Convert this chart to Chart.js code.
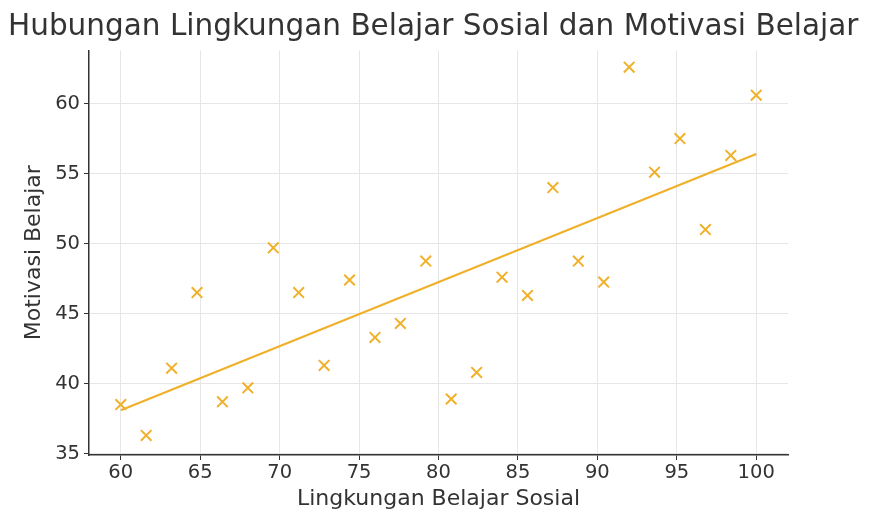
<!DOCTYPE html>
<html>
<head>
<meta charset="utf-8">
<script src="https://cdn.jsdelivr.net/npm/chart.js@4/dist/chart.umd.min.js"></script>
<style>
    html, body { margin: 0; padding: 0; background: #fff; }
    #wrap { width: 872px; height: 516px; }
</style>
</head>
<body>
<div id="wrap"><canvas id="chart" width="872" height="516"></canvas></div>
<script>
// Data
const lingkungan = [60, 61.6, 63.2, 64.8, 66.4, 68, 69.6, 71.2, 72.8, 74.4, 76, 77.6, 79.2,
    80.8, 82.4, 84, 85.6, 87.2, 88.8, 90.4, 92, 93.6, 95.2, 96.8, 98.4, 100];
const motivasi = [38.5, 36.3, 41.1, 46.5, 38.7, 39.7, 49.7, 46.5, 41.3, 47.4, 43.3, 44.3, 48.75,
    38.9, 40.8, 47.6, 46.3, 54.0, 48.75, 47.25, 62.6, 55.1, 57.5, 51.0, 56.3, 60.6];

// Regression line end points
const trendX = [60, 100];
const trendY = [38.1, 56.4];

const xTicks = [60, 65, 70, 75, 80, 85, 90, 95, 100];
const yTicks = [35, 40, 45, 50, 55, 60];

const orange = '#f0b02a';
const textColor = '#333333';
const font = 'DejaVu Sans';

const points = lingkungan.map((x, i) => ({ x: x, y: motivasi[i] }));
const trend = trendX.map((x, i) => ({ x: x, y: trendY[i] }));

new Chart(document.getElementById('chart'), {
    type: 'scatter',
    data: {
        datasets: [
            {
                label: 'Data',
                data: points,
                pointStyle: 'crossRot',
                pointRadius: 7.5,
                pointBorderWidth: 2,
                borderColor: orange,
                backgroundColor: orange
            },
            {
                type: 'line',
                label: 'Regresi',
                data: trend,
                borderColor: orange,
                borderWidth: 2.2,
                pointRadius: 0,
                fill: false
            }
        ]
    },
    options: {
        responsive: false,
        animation: false,
        layout: {
            padding: { left: 8, right: 0, top: 0, bottom: 0 }
        },
        plugins: {
            legend: { display: false },
            tooltip: { enabled: false },
            title: {
                display: true,
                text: 'Hubungan Lingkungan Belajar Sosial dan Motivasi Belajar',
                align: 'start',
                color: textColor,
                font: { family: font, size: 29.5, weight: 'normal' },
                padding: { top: 10, bottom: 5 }
            }
        },
        scales: {
            x: {
                type: 'linear',
                min: 58,
                max: 102,
                afterBuildTicks: axis => { axis.ticks = xTicks.map(v => ({ value: v })); },
                afterFit: axis => { axis.height = 61; },
                grid: {
                    color: '#e6e6e6',
                    tickColor: textColor,
                    tickLength: 5
                },
                border: { color: textColor, width: 1.5 },
                ticks: {
                    color: textColor,
                    font: { family: font, size: 19.5 },
                    padding: 1,
                    maxRotation: 0
                },
                title: {
                    display: true,
                    text: 'Lingkungan Belajar Sosial',
                    color: textColor,
                    font: { family: font, size: 22 },
                    padding: { top: 0, bottom: 4 }
                }
            },
            y: {
                type: 'linear',
                min: 34.9,
                max: 63.8,
                afterBuildTicks: axis => { axis.ticks = yTicks.map(v => ({ value: v })); },
                afterFit: axis => { axis.width = 81; },
                grid: {
                    color: '#e6e6e6',
                    tickColor: textColor,
                    tickLength: 5
                },
                border: { color: textColor, width: 1.5 },
                ticks: {
                    color: textColor,
                    font: { family: font, size: 19.5 },
                    padding: 4
                },
                title: {
                    display: true,
                    text: 'Motivasi Belajar',
                    color: textColor,
                    font: { family: font, size: 22 },
                    padding: { top: 13, bottom: 0 }
                }
            },
            // empty right-hand spacer so the plot ends where the reference does
            spacer: {
                type: 'linear',
                position: 'right',
                min: 0,
                max: 1,
                afterFit: axis => { axis.width = 84; },
                grid: { display: false },
                border: { display: false },
                ticks: { display: false }
            }
        }
    }
});
</script>
</body>
</html>
